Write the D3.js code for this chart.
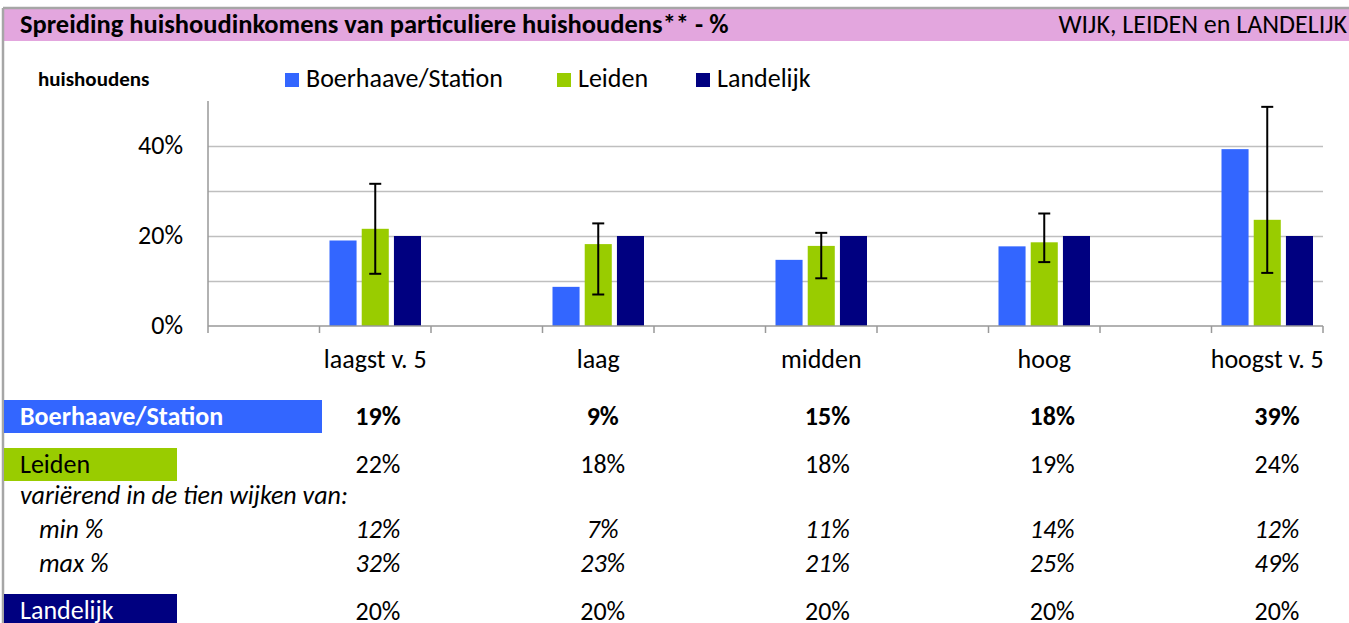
<!DOCTYPE html>
<html>
<head>
<meta charset="utf-8">
<script src="https://cdnjs.cloudflare.com/ajax/libs/d3/7.8.5/d3.min.js"></script>
<style>
body { margin: 0; background: #fff; }
svg text { font-family: Carlito, "Open Sans", sans-serif; fill: #000; }
</style>
</head>
<body>
<svg id="chart" width="1349" height="623"></svg>
<script>
// data
var categories = ["laagst v. 5", "laag", "midden", "hoog", "hoogst v. 5"];
var seriesNames = ["Boerhaave/Station", "Leiden", "Landelijk"];
var wijkValues = [0.190, 0.087, 0.147, 0.177, 0.393];
var leidenValues = [0.216, 0.182, 0.178, 0.186, 0.236];
var landelijkValues = [0.20, 0.20, 0.20, 0.20, 0.20];
var leidenMin = [0.116, 0.070, 0.106, 0.142, 0.118];
var leidenMax = [0.316, 0.228, 0.207, 0.250, 0.487];
var yLabelTicks = [0, 0.2, 0.4];
var gridTicks = [0.1, 0.2, 0.3, 0.4];

var colors = ["#3366FF", "#99CC00", "#000080"];
var seriesValues = [wijkValues, leidenValues, landelijkValues];

var svg = d3.select("#chart");
var pct = d3.format(".0%");
var fs = 26; // one text size for nearly everything, like the Excel original

// frame + title bar
svg.append("rect").attr("x", 4).attr("y", 9).attr("width", 1345).attr("height", 32).attr("fill", "#E3A6DE");
svg.append("line").attr("x1", 3).attr("x2", 1349).attr("y1", 8).attr("y2", 8).attr("stroke", "#A6A6A6").attr("stroke-width", 2.5);
svg.append("line").attr("x1", 3).attr("x2", 3).attr("y1", 8).attr("y2", 623).attr("stroke", "#A6A6A6").attr("stroke-width", 2.5);

svg.append("text").attr("x", 20).attr("y", 33)
  .attr("font-weight", "bold").attr("font-size", 26.5)
  .text("Spreiding huishoudinkomens van particuliere huishoudens** - %");
svg.append("text").attr("x", 1347).attr("y", 33).attr("text-anchor", "end")
  .attr("font-size", fs)
  .text("WIJK, LEIDEN en LANDELIJK");

svg.append("text").attr("x", 38).attr("y", 86)
  .attr("font-weight", "bold").attr("font-size", 21)
  .text("huishoudens");

// legend
var legendX = [285, 557, 696];
var legend = svg.selectAll("g.legend").data(seriesNames).enter().append("g")
  .attr("class", "legend")
  .attr("transform", function(d, i) { return "translate(" + legendX[i] + ",73)"; });
legend.append("rect").attr("width", 14).attr("height", 14).attr("fill", function(d, i) { return colors[i]; });
legend.append("text").attr("x", 21).attr("y", 14).attr("font-size", fs).text(function(d) { return d; });

// scales
var left = 208, right = 1323, plotTop = 101, bottom = 326;
var x0 = d3.scaleBand().domain(categories).range([left, right]);
var half = x0.bandwidth() / 2;
// bars sit in the right half of each band (the left half is an empty slot)
var x1 = d3.scaleBand().domain(seriesNames).range([half + 10, half + half - 10]).paddingInner(0.16);
var y = d3.scaleLinear().domain([0, 0.5]).range([bottom, plotTop]);

// gridlines
svg.append("g").attr("transform", "translate(" + left + ",0)")
  .call(d3.axisLeft(y).tickValues(gridTicks).tickSize(-(right - left)).tickFormat(""))
  .call(function(g) { g.select(".domain").remove(); })
  .selectAll("line").attr("stroke", "#BFBFBF").attr("stroke-width", 1.5);

// y labels
svg.append("g").attr("transform", "translate(" + left + ",0)")
  .call(d3.axisLeft(y).tickValues(yLabelTicks).tickSize(0).tickPadding(25).tickFormat(pct))
  .call(function(g) { g.select(".domain").remove(); })
  .selectAll("text").attr("font-size", fs).attr("font-family", null).attr("dy", "0.3em");

// bars
var groups = svg.selectAll("g.cat").data(categories).enter().append("g")
  .attr("class", "cat")
  .attr("transform", function(d) { return "translate(" + x0(d) + ",0)"; });

groups.selectAll("rect").data(function(d, ci) {
    return seriesNames.map(function(s, si) { return {s: s, si: si, v: seriesValues[si][ci]}; });
  }).enter().append("rect")
  .attr("x", function(d) { return x1(d.s); })
  .attr("y", function(d) { return y(d.v); })
  .attr("width", x1.bandwidth())
  .attr("height", function(d) { return y(0) - y(d.v); })
  .attr("fill", function(d) { return colors[d.si]; });

// error bars on Leiden (min / max of the ten wijken)
var ex = function(d) { return x0(d) + x1("Leiden") + x1.bandwidth() / 2; };
categories.forEach(function(c, i) {
  var cx = ex(c);
  var e = svg.append("g").attr("stroke", "#000").attr("stroke-width", 2);
  e.append("line").attr("x1", cx).attr("x2", cx).attr("y1", y(leidenMin[i])).attr("y2", y(leidenMax[i]));
  e.append("line").attr("x1", cx - 6).attr("x2", cx + 6).attr("y1", y(leidenMin[i])).attr("y2", y(leidenMin[i]));
  e.append("line").attr("x1", cx - 6).attr("x2", cx + 6).attr("y1", y(leidenMax[i])).attr("y2", y(leidenMax[i]));
});

// axes lines
svg.append("line").attr("x1", left).attr("x2", left).attr("y1", plotTop).attr("y2", bottom + 7)
  .attr("stroke", "#999").attr("stroke-width", 1.5);
svg.append("line").attr("x1", left).attr("x2", right).attr("y1", bottom).attr("y2", bottom)
  .attr("stroke", "#999").attr("stroke-width", 1.5);
var tickPos = [];
categories.forEach(function(c) { tickPos.push(x0(c) + half); tickPos.push(x0(c) + x0.bandwidth()); });
svg.selectAll("line.xtick").data(tickPos).enter().append("line")
  .attr("class", "xtick")
  .attr("x1", function(d) { return d; }).attr("x2", function(d) { return d; })
  .attr("y1", bottom).attr("y2", bottom + 7)
  .attr("stroke", "#999").attr("stroke-width", 1.5);

svg.selectAll("text.xlab").data(categories).enter().append("text")
  .attr("class", "xlab")
  .attr("x", function(d) { return x0(d) + half + half / 2; })
  .attr("y", 368)
  .attr("text-anchor", "middle").attr("font-size", fs)
  .text(function(d) { return d; });

// table underneath
var col = d3.scalePoint().domain(categories).range([378, 1277]);

function labelBox(yTop, w, fill, txt, txtColor, bold) {
  svg.append("rect").attr("x", 4).attr("y", yTop).attr("width", w).attr("height", 33).attr("fill", fill);
  svg.append("text").attr("x", 20).attr("y", yTop + 25).attr("font-size", fs)
    .attr("font-weight", bold ? "bold" : null).style("fill", txtColor).text(txt);
}
function valueRow(vals, yBase, style) {
  svg.selectAll(null).data(vals).enter().append("text")
    .attr("x", function(d, i) { return col(categories[i]); })
    .attr("y", yBase)
    .attr("text-anchor", "middle").attr("font-size", fs)
    .attr("font-weight", style == "bold" ? "bold" : null)
    .attr("font-style", style == "italic" ? "italic" : null)
    .text(function(d) { return pct(d); });
}

labelBox(400, 318, colors[0], "Boerhaave/Station", "#fff", true);
valueRow(wijkValues, 425, "bold");

labelBox(448, 173, colors[1], "Leiden", "#000", false);
valueRow(leidenValues, 473, "normal");

svg.append("text").attr("x", 20).attr("y", 504).attr("font-size", fs).attr("font-style", "italic")
  .text("variërend in de tien wijken van:");
svg.append("text").attr("x", 39).attr("y", 538).attr("font-size", fs).attr("font-style", "italic").text("min %");
valueRow(leidenMin, 538, "italic");
svg.append("text").attr("x", 39).attr("y", 572).attr("font-size", fs).attr("font-style", "italic").text("max %");
valueRow(leidenMax, 572, "italic");

labelBox(594, 173, colors[2], "Landelijk", "#fff", false);
valueRow(landelijkValues, 620, "normal");
</script>
</body>
</html>
